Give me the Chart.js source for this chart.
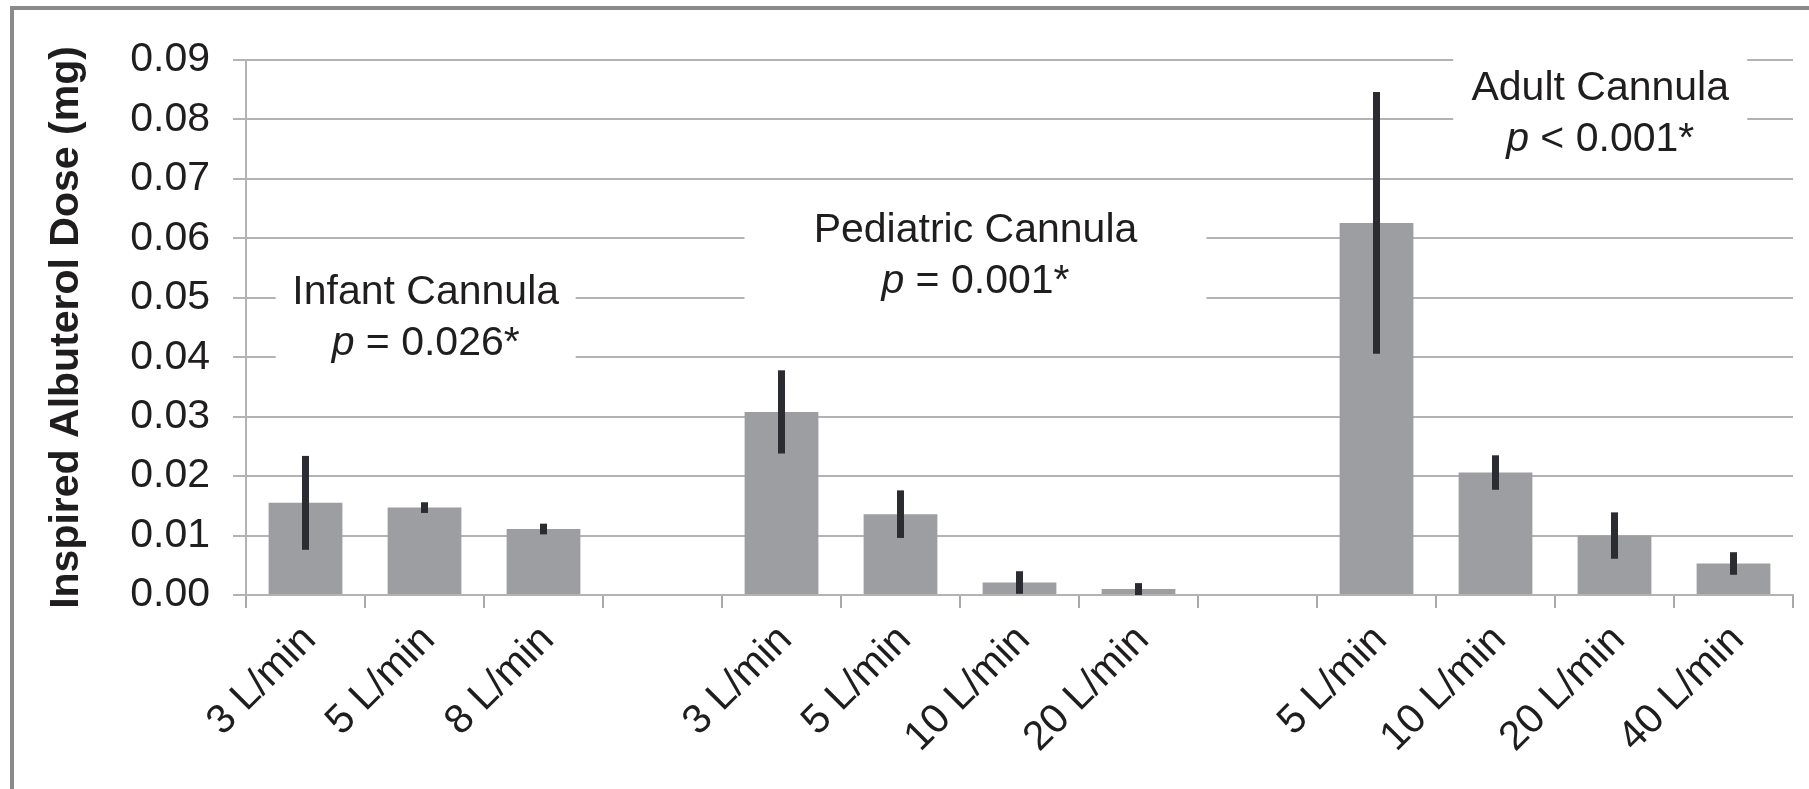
<!DOCTYPE html>
<html>
<head>
<meta charset="utf-8">
<script src="https://cdn.jsdelivr.net/npm/chart.js"></script>
<style>
  body { margin: 0; background: #fff; }
  #wrap { position: relative; width: 1809px; height: 789px; overflow: hidden; }
  #frame { position: absolute; left: 10px; top: 6px; width: 1900px; height: 900px;
    border-left: 4px solid #8a8a8a; border-top: 4px solid #8a8a8a; pointer-events: none; }
</style>
</head>
<body>
<div id="wrap">
  <canvas id="doseChart" width="1809" height="789"></canvas>
  <div id="frame"></div>
</div>
<script>
// flow rates, blank slots separate the three cannula groups
var flowRates = ['3 L/min', '5 L/min', '8 L/min', '',
  '3 L/min', '5 L/min', '10 L/min', '20 L/min', '',
  '5 L/min', '10 L/min', '20 L/min', '40 L/min']
var doses = [0.0155, 0.0147, 0.0111, null,
  0.0308, 0.0136, 0.0021, 0.0010, null,
  0.0626, 0.0206, 0.0100, 0.0053]
var doseErrors = [0.0079, 0.0009, 0.0009, null,
  0.0070, 0.0040, 0.0019, 0.0010, null,
  0.0220, 0.0029, 0.0039, 0.0019]
var groupNames = ['Infant Cannula', 'Pediatric Cannula', 'Adult Cannula']
var groupPValues = ['= 0.026*', '= 0.001*', '< 0.001*']
var yMax = 0.09
var yStep = 0.01

// where the group captions sit (category index, value of first line)
var captionSpots = [
    { x: 1.01, y: 0.0508, halfWidth: 150 },
    { x: 5.63, y: 0.0613, halfWidth: 231 },
    { x: 10.88, y: 0.0852, halfWidth: 147 }
]

var fontFamily = '"Liberation Sans", Arial, Helvetica, sans-serif'
var textColor = '#1f1d1e'
var gridColor = '#b3b3b3'

var errorBarPlugin = {
    id: 'errorBars',
    afterDatasetsDraw(chart) {
        var ctx = chart.ctx
        var meta = chart.getDatasetMeta(0)
        var yScale = chart.scales.y
        ctx.save()
        ctx.strokeStyle = '#2b2c31'
        ctx.lineWidth = 7
        doses.forEach((d, i) => {
            if (d == null) return
            var x = meta.data[i].x
            ctx.beginPath()
            ctx.moveTo(x, yScale.getPixelForValue(d + doseErrors[i]))
            ctx.lineTo(x, yScale.getPixelForValue(Math.max(d - doseErrors[i], 0)))
            ctx.stroke()
        })
        ctx.restore()
    }
}

var captionPlugin = {
    id: 'groupCaptions',
    beforeDatasetsDraw(chart) {
        var ctx = chart.ctx
        var xScale = chart.scales.x
        var yScale = chart.scales.y
        var lineGap = 51
        ctx.save()
        groupNames.forEach((name, i) => {
            var spot = captionSpots[i]
            var px = xScale.getPixelForValue(spot.x)
            var py = yScale.getPixelForValue(spot.y)
            // white box hides the gridlines behind the text
            ctx.fillStyle = '#fff'
            ctx.fillRect(px - spot.halfWidth, py - 32, spot.halfWidth * 2, lineGap + 64)

            ctx.fillStyle = textColor
            ctx.textBaseline = 'middle'
            ctx.textAlign = 'left'
            ctx.font = '41px ' + fontFamily
            var w = ctx.measureText(name).width
            ctx.fillText(name, px - w / 2, py)

            ctx.font = 'italic 41px ' + fontFamily
            var wp = ctx.measureText('p').width
            ctx.font = '41px ' + fontFamily
            var rest = ' ' + groupPValues[i]
            var wr = ctx.measureText(rest).width
            var start = px - (wp + wr) / 2
            ctx.font = 'italic 41px ' + fontFamily
            ctx.fillText('p', start, py + lineGap)
            ctx.font = '41px ' + fontFamily
            ctx.fillText(rest, start + wp, py + lineGap)
        })
        ctx.restore()
    }
}

new Chart('doseChart', {
    type: 'bar',
    data: {
        labels: flowRates,
        datasets: [{
            data: doses,
            backgroundColor: '#9d9ea2',
            borderWidth: 0,
            categoryPercentage: 1,
            barPercentage: 0.62
        }]
    },
    options: {
        responsive: false,
        animation: false,
        devicePixelRatio: 1,
        layout: { padding: { left: 0, top: 60, right: 16, bottom: 0 } },
        plugins: {
            legend: { display: false },
            tooltip: { enabled: false }
        },
        scales: {
            x: {
                afterFit(scale) { scale.height = 194 },
                grid: { display: true, drawOnChartArea: false, drawTicks: true, tickLength: 13, color: '#a9a9a9', lineWidth: 2 },
                border: { display: true, color: gridColor, width: 2 },
                ticks: {
                    autoSkip: false,
                    minRotation: 45,
                    maxRotation: 45,
                    padding: 8,
                    labelOffset: 4,
                    color: textColor,
                    font: { family: fontFamily, size: 41 }
                }
            },
            y: {
                min: 0,
                max: yMax,
                afterFit(scale) { scale.width = 246 },
                grid: { color: gridColor, lineWidth: 2, tickLength: 13 },
                border: { display: true, color: gridColor, width: 2 },
                ticks: {
                    stepSize: yStep,
                    padding: 23,
                    color: textColor,
                    font: { family: fontFamily, size: 41 },
                    callback: v => v.toFixed(2)
                },
                title: {
                    display: true,
                    text: 'Inspired Albuterol Dose (mg)',
                    color: textColor,
                    padding: { top: 42, bottom: 0 },
                    font: { family: fontFamily, size: 41, weight: 'bold' }
                }
            }
        }
    },
    plugins: [captionPlugin, errorBarPlugin]
})
</script>
</body>
</html>
